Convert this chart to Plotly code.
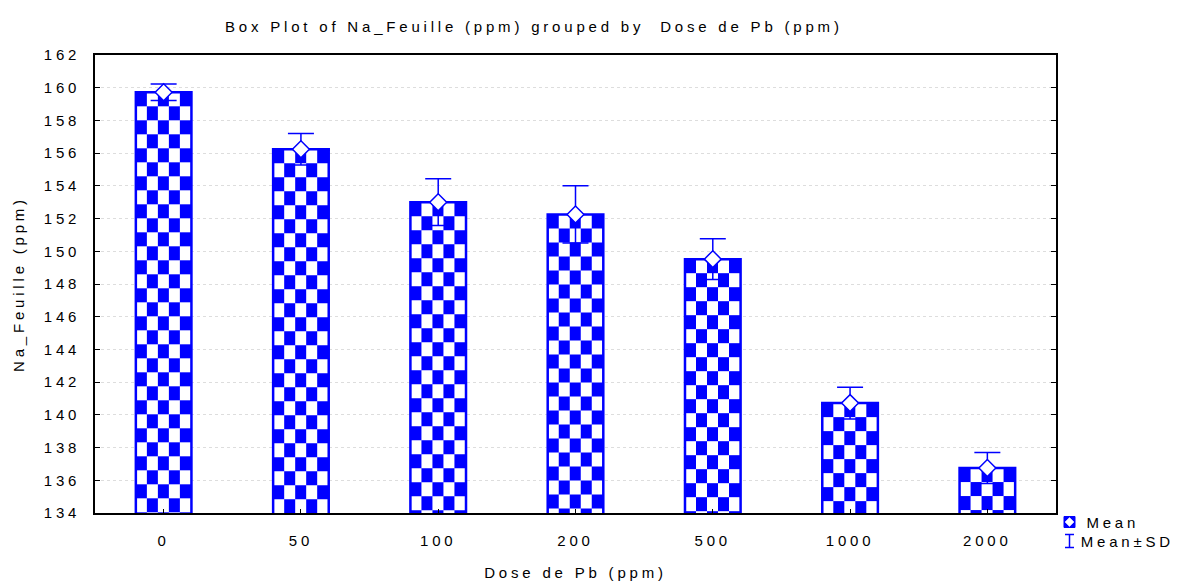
import numpy as np
import plotly.graph_objects as go

# ---- data ----
doses = ["0", "50", "100", "200", "500", "1000", "2000"]
means = [159.72, 156.24, 153.0, 152.25, 149.52, 140.72, 136.75]
sds = [0.50, 0.96, 1.43, 1.75, 1.25, 0.97, 0.95]
y_ticks = list(range(134, 163, 2))

BLUE = "#0000FF"
FONT = "Liberation Sans, Arial, sans-serif"
BAR_W = 0.405
Y_MIN, Y_MAX = 134, 162
CELL_H = 0.855  # checker cell height in data units
N_COLS = 5

pos = list(range(len(doses)))

fig = go.Figure()

# checkerboard texture for each bar (derived from bar values)
for i, v in enumerate(means):
    xe = [pos[i] - BAR_W / 2 + k * BAR_W / N_COLS for k in range(N_COLS + 1)]
    tops = [v]
    y = v
    while y - CELL_H > Y_MIN:
        y -= CELL_H
        tops.append(y)
    tops.append(Y_MIN)
    ye = sorted(tops)
    nrows = len(ye) - 1
    z = []
    for r in range(nrows):
        rt = nrows - 1 - r  # index from top
        z.append([(rt + c + 1) % 2 for c in range(N_COLS)])
    fig.add_trace(go.Heatmap(
        x=xe, y=ye, z=z, zmin=0, zmax=1,
        colorscale=[[0, "white"], [1, BLUE]], showscale=False,
        hoverinfo="skip", xgap=0, ygap=0,
    ))

# bar outlines
fig.add_trace(go.Bar(
    x=pos, y=means, width=BAR_W,
    marker=dict(color="rgba(0,0,0,0)", line=dict(color=BLUE, width=2.5)),
    showlegend=False, hoverinfo="skip",
))

# mean with SD
fig.add_trace(go.Scatter(
    x=pos, y=means, mode="markers",
    marker=dict(symbol="diamond", size=13, color="white",
                line=dict(color=BLUE, width=1.5)),
    error_y=dict(type="data", array=sds, visible=True, color=BLUE,
                 thickness=1.5, width=13),
    showlegend=False, name="Mean",
))

fig.update_layout(
    width=1189, height=586,
    margin=dict(l=95, r=133, t=55, b=73),
    paper_bgcolor="white", plot_bgcolor="white",
    font=dict(family=FONT, size=15, color="black"),
    showlegend=False,
    title=dict(text="Box Plot of Na_Feuille (ppm) grouped by  Dose de Pb (ppm)",
               x=543 / 1189, xanchor="center", xref="paper",
               y=1 - 27 / 586, yanchor="middle", yref="container",
               font=dict(family=FONT, size=15)),
    barmode="overlay",
)

fig.update_xaxes(
    automargin=False,
    range=[-0.5, len(doses) - 0.5], tickvals=pos, ticktext=doses,
    showgrid=False, zeroline=False,
    showline=True, linecolor="black", linewidth=1.5, mirror=True,
    ticks="inside", ticklen=4, tickcolor="black",
    ticklabelstandoff=13,
    title=dict(text="Dose de Pb (ppm)", standoff=20, font=dict(size=15)),
)
fig.update_yaxes(
    automargin=False,
    range=[Y_MIN, Y_MAX], tickvals=y_ticks,
    showgrid=True, gridcolor="#DDDDDD", griddash="dot", gridwidth=1,
    zeroline=False,
    showline=True, linecolor="black", linewidth=1.5, mirror="ticks",
    ticks="inside", ticklen=5, tickcolor="black",
    ticklabelstandoff=10,
    title=dict(text="Na_Feuille (ppm)", standoff=27, font=dict(size=15)),
)

# legend (drawn manually)
lx = (1064 - 95) / 961
fig.add_shape(type="rect", xref="paper", yref="paper",
              xsizemode="pixel", ysizemode="pixel",
              xanchor=lx, yanchor=(513 - 522) / 458,
              x0=0, x1=11, y0=-5.5, y1=5.5,
              fillcolor=BLUE, line=dict(color=BLUE, width=1))
fig.add_shape(type="path", xref="paper", yref="paper",
              xsizemode="pixel", ysizemode="pixel",
              xanchor=lx, yanchor=(513 - 522) / 458,
              path="M 5.5,4.5 L 10,0 L 5.5,-4.5 L 1,0 Z",
              fillcolor="white", line=dict(color="white", width=0.5))
ly = (513 - 541) / 458
for seg in ["M 5.5,-6.5 L 5.5,6.5", "M 1,6.5 L 10,6.5", "M 1,-6.5 L 10,-6.5"]:
    fig.add_shape(type="path", xref="paper", yref="paper",
                  xsizemode="pixel", ysizemode="pixel",
                  xanchor=lx, yanchor=ly, path=seg,
                  line=dict(color=BLUE, width=1.5))
fig.add_annotation(text="Mean", xref="paper", yref="paper",
                   x=(1092 - 95) / 961, y=(513 - 522) / 458,
                   xanchor="left", yanchor="middle", showarrow=False,
                   font=dict(family=FONT, size=15))
fig.add_annotation(text="Mean±SD", xref="paper", yref="paper",
                   x=(1092 - 95) / 961, y=ly,
                   xanchor="left", yanchor="middle", showarrow=False,
                   font=dict(family=FONT, size=15))

post = """
document.body.style.margin = '0';
document.body.style.overflow = 'hidden';
var gd = document.getElementById('{plot_id}');
function ls(){ gd.querySelectorAll('text').forEach(function(t){ t.style.letterSpacing='3.8px'; }); }
ls();
gd.on('plotly_afterplot', ls);
"""
fig.write_html("out.html", post_script=post, config={"displayModeBar": False})
